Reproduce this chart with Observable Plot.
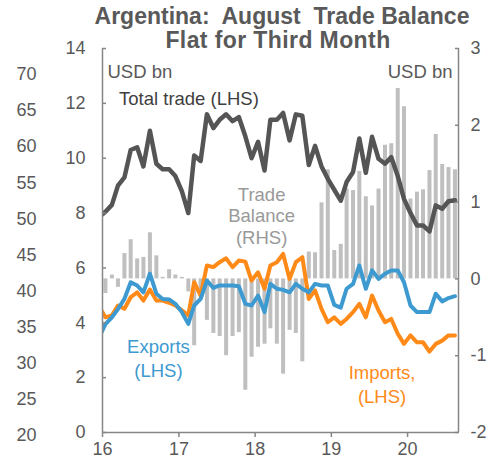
<!DOCTYPE html>
<html><head><meta charset="utf-8">
<script src="https://cdn.jsdelivr.net/npm/d3@7"></script>
<script src="https://cdn.jsdelivr.net/npm/@observablehq/plot@0.6"></script>
<style>
body{margin:0;background:#fff;font-family:"Liberation Sans",Arial,sans-serif;}
#wrap{position:relative;width:487px;height:464px;overflow:hidden;}
#title{position:absolute;left:60px;width:444px;top:5px;text-align:center;font-weight:bold;font-size:23px;line-height:23.5px;color:#595959;white-space:pre;z-index:2;}
#title span{display:block;}
#chart svg{display:block;}
</style></head>
<body><div id="wrap"><div id="title"><span>Argentina:  August  Trade Balance</span><span style="margin-left:-8px;letter-spacing:0.4px">Flat for Third Month</span></div><div id="chart"></div></div>
<script>
// Monthly series, Dec 2015 .. Aug 2020 (Dec 2015 only feeds the clipped line start)
const totalTrade = [7.85, 8.05,8.3,9.0,9.3,10.3,10.4,9.7,11.0,9.8,9.6,9.6,9.35,
  8.8,8.0,10.1,9.9,11.6,11.1,11.4,11.6,11.35,11.5,10.8,10.0,
  10.6,9.55,11.4,11.4,11.65,10.65,11.6,11.55,9.75,10.45,9.7,9.25,
  8.85,8.45,9.13,9.5,10.72,9.47,10.78,9.98,9.8,10.04,9.35,8.52,
  8.0,7.55,7.55,7.33,8.28,8.16,8.43,8.47];
const exportsBn = [3.45, 3.95,4.2,4.5,4.87,5.48,5.36,5.11,5.79,5.06,4.87,4.85,4.69,
  4.39,3.96,4.63,4.87,5.54,5.27,5.36,5.36,5.36,5.33,4.69,4.63,
  4.99,4.39,5.42,5.24,5.2,5.11,5.42,5.24,5.11,5.42,5.36,5.36,
  4.65,4.55,5.24,5.42,6.09,5.24,5.91,5.6,5.79,5.91,5.91,5.48,
  4.63,4.39,4.39,4.39,5.06,4.78,4.9,4.97];
const importsBn = [4.6, 4.2,4.27,4.63,4.51,4.93,5.11,4.81,5.21,4.81,4.81,4.73,4.63,
  4.45,4.27,5.48,4.99,6.09,6.03,6.21,6.35,6.03,6.27,6.23,5.54,
  5.84,5.24,6.09,6.21,6.51,5.6,6.21,6.39,4.87,5.18,4.51,4.02,
  4.2,3.96,4.14,4.39,4.69,4.2,4.99,4.45,4.02,4.14,3.6,3.23,
  3.54,3.29,3.29,2.95,3.23,3.35,3.54,3.54];
const tradeBalance = [null, -0.19,0.05,-0.11,0.33,0.51,0.26,0.28,0.6,0.30,0.02,0.12,0.05,
  0.02,-0.17,-0.87,-0.2,-0.54,-0.71,-0.75,-1.0,-0.75,-0.7,-1.45,-1.02,
  -0.89,-0.85,-0.65,-0.85,-1.24,-0.67,-0.71,-1.08,0.35,0.34,0.99,1.42,
  0.37,0.45,1.17,1.15,1.40,1.07,0.95,1.17,1.74,1.76,2.48,2.24,
  1.04,1.13,1.16,1.41,1.88,1.49,1.45,1.42];

const lhsTicks = [0,2,4,6,8,10,12,14];
const rhsTicks = [-2,-1,0,1,2,3];
const ghostTicks = [70,65,60,55,50,45,40,35,30,25,20];
const yearTicks = [2016,2017,2018,2019,2020];

const lhsDomain = [0,14], rhsDomain = [-2,3];
const toL = b => (b - rhsDomain[0]) * (lhsDomain[1]-lhsDomain[0]) / (rhsDomain[1]-rhsDomain[0]);
const toR = v => rhsDomain[0] + v * (rhsDomain[1]-rhsDomain[0]) / (lhsDomain[1]-lhsDomain[0]);
// ghost axis of a neighbouring chart (cropped in the original)
const ghostToL = v => (7.22*v - 147.4) / 27.43;

const start = new Date(Date.UTC(2016,0,1)), end = new Date(Date.UTC(2020,8,1));
const months = d3.utcMonth.range(new Date(Date.UTC(2015,11,1)), end);
const data = months.map((m,i)=>({date: d3.utcDay.offset(m,14), total: totalTrade[i],
  exports: exportsBn[i], imports: importsBn[i], balance: tradeBalance[i]}));
const bars = data.filter(d => d.balance != null);

const axisColor = "#868686", textColor = "#595959";
const font = '"Liberation Sans", Arial, sans-serif';

const chart = Plot.plot({
  width: 487, height: 464,
  marginLeft: 102, marginRight: 29, marginTop: 48, marginBottom: 32,
  style: {fontFamily: font, fontSize: "18px", color: textColor, background: "transparent", overflow: "visible"},
  x: {type: "utc", domain: [start, end], label: null},
  y: {domain: lhsDomain, label: null},
  marks: [
    Plot.ruleX(bars, {x: "date", y1: toL(0), y2: d => toL(d.balance), stroke: "#bfbfbf", strokeWidth: 4}),
    Plot.lineY(data, {x: "date", y: "total", stroke: "#555555", strokeWidth: 4.5, clip: true}),
    Plot.lineY(data, {x: "date", y: "imports", stroke: "#ff8a17", strokeWidth: 4, clip: true}),
    Plot.lineY(data, {x: "date", y: "exports", stroke: "#3d9ad1", strokeWidth: 4, clip: true}),
    Plot.ruleX([start], {stroke: axisColor, strokeWidth: 1.5}),
    Plot.ruleX([end], {stroke: axisColor, strokeWidth: 1.5}),
    Plot.ruleY([0], {stroke: axisColor, strokeWidth: 1.5}),
    Plot.axisY(lhsTicks, {anchor: "left", tickSize: -4, tickPadding: 21, stroke: axisColor, strokeWidth: 1.5, fontSize: 18, fill: textColor, label: null}),
    Plot.axisY(rhsTicks.map(toL), {anchor: "right", tickSize: -4, tickPadding: 16, stroke: axisColor, strokeWidth: 1.5, fontSize: 18, fill: textColor, label: null,
      tickFormat: v => { const r = Math.round(toR(v)*100)/100; return r < 0 ? "-" + Math.abs(r) : String(r); }}),
    Plot.axisX(yearTicks.map(y => new Date(Date.UTC(y,0,1))), {anchor: "bottom", tickSize: 5, tickPadding: 5, stroke: axisColor, strokeWidth: 1.5, fontSize: 18, fill: textColor, label: null,
      tickFormat: d3.utcFormat("%y")}),
    Plot.text(ghostTicks, {y: v => ghostToL(v), text: v => String(v), frameAnchor: "left", dx: -66, textAnchor: "end", fontSize: 18, fill: textColor}),
    Plot.text(["USD bn"], {frameAnchor: "top-left", dx: 5, dy: 24, lineAnchor: "middle", textAnchor: "start", fontSize: 18.5, fill: textColor}),
    Plot.text(["USD bn"], {frameAnchor: "top-right", dx: -6, dy: 24, lineAnchor: "middle", textAnchor: "end", fontSize: 18.5, fill: textColor}),
    Plot.text(["Total trade (LHS)"], {x: new Date(Date.UTC(2017,1,18)), y: 12.14, fontSize: 18.5, fill: "#404040"}),
    Plot.text(["Trade\nBalance\n(RHS)"], {x: new Date(Date.UTC(2018,1,1)), y: 7.91, fontSize: 18.5, lineHeight: 1.17, fill: "#999999"}),
    Plot.text(["Exports\n(LHS)"], {x: new Date(Date.UTC(2016,8,25)), y: 2.75, fontSize: 18.5, lineHeight: 1.3, fill: "#3d9ad1"}),
    Plot.text(["Imports,\n(LHS)"], {x: new Date(Date.UTC(2019,8,1)), y: 1.80, fontSize: 18.5, lineHeight: 1.3, fill: "#ff8a17"})
  ]
});
document.getElementById("chart").appendChild(chart);
</script>
</body></html>
